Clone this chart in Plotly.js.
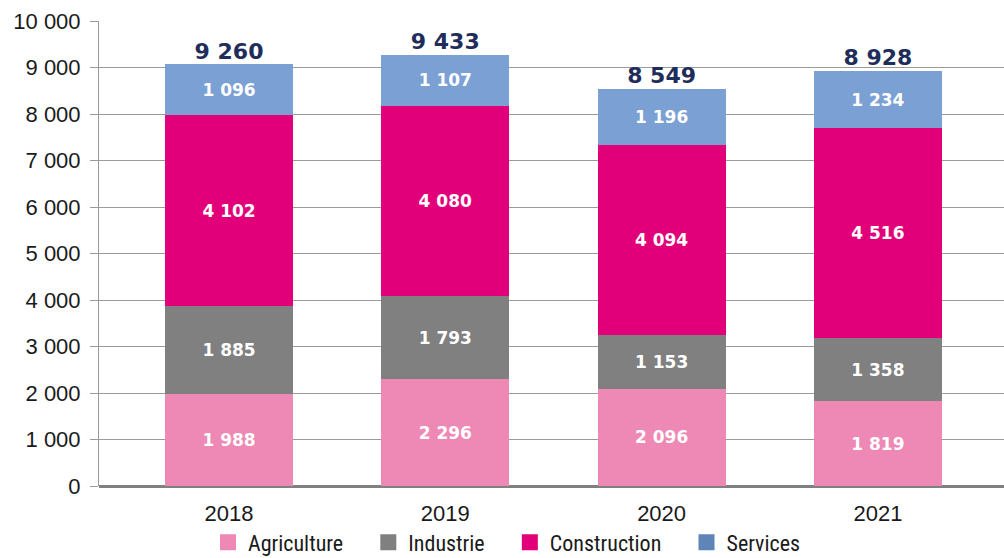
<!DOCTYPE html>
<html>
<head>
<meta charset="utf-8">
<script src="https://cdn.plot.ly/plotly-3.0.1.min.js"></script>
<style>html,body{margin:0;padding:0;background:#fff;}#chart{width:1004px;height:558px;}</style>
</head>
<body>
<div id="chart"></div>
<script>
const years = ["2018", "2019", "2020", "2021"];
const agriculture = [1988, 2296, 2096, 1819];
const industrie = [1885, 1793, 1153, 1358];
const construction = [4102, 4080, 4094, 4516];
const services = [1096, 1107, 1196, 1234];
const totals = [9260, 9433, 8549, 8928];
const seriesNames = ["Agriculture", "Industrie", "Construction", "Services"];
const seriesColors = ["#EE88B4", "#808080", "#E2007A", "#7BA0D4"];
const legendColors = ["#EE88B4", "#808080", "#E2007A", "#5F84B8"];

function fmt(v) {
  return String(v).replace(/\B(?=(\d{3})+(?!\d))/g, " ");
}

const seriesData = [agriculture, industrie, construction, services];
const traces = seriesData.map((vals, i) => ({
  type: "bar",
  name: seriesNames[i],
  x: years,
  y: vals,
  text: vals.map(fmt),
  textposition: "inside",
  insidetextanchor: "middle",
  textangle: 0,
  textfont: {family: "DejaVu Sans", size: 17, color: "#ffffff", weight: "bold"},
  marker: {color: seriesColors[i], line: {width: 0}},
  showlegend: false,
  hoverinfo: "skip"
}));

// legend entries with large square swatches
const pad = "\u00a0\u00a0\u00a0\u00a0";
seriesNames.forEach((nm, i) => {
  traces.push({
    type: "scatter", mode: "markers",
    name: nm + (i < seriesNames.length - 1 ? pad : ""),
    x: [null], y: [null],
    marker: {symbol: "square", size: 16, color: legendColors[i]},
    showlegend: true, hoverinfo: "skip"
  });
});

const stackTops = years.map((_, k) => seriesData.reduce((s, arr) => s + arr[k], 0));
traces.push({
  type: "scatter", mode: "text",
  x: years, y: stackTops,
  text: totals.map(fmt),
  textposition: "top center",
  textfont: {family: "DejaVu Sans", size: 22, color: "#1F2D5A", weight: "bold"},
  cliponaxis: false,
  showlegend: false, hoverinfo: "skip"
});

const layout = {
  width: 1004, height: 558,
  margin: {l: 99, r: 0, t: 21, b: 72},
  paper_bgcolor: "#ffffff", plot_bgcolor: "#ffffff",
  barmode: "stack",
  bargap: 0.408,
  showlegend: true,
  separators: ", ",
  font: {family: "Liberation Sans, Arial, sans-serif", color: "#1a1a1a"},
  xaxis: {
    type: "category",
    range: [-0.601, 3.583],
    showgrid: false,
    showline: false,
    zeroline: false,
    ticks: "",
    tickfont: {size: 22, color: "#1a1a1a"},
    ticklabelstandoff: 12
  },
  yaxis: {
    range: [0, 10000],
    dtick: 1000,
    tickformat: ",d",
    showgrid: true,
    gridcolor: "#9a9a9a",
    gridwidth: 1,
    showline: true,
    linecolor: "#9a9a9a",
    linewidth: 1,
    ticks: "outside",
    ticklen: 8,
    tickcolor: "#9a9a9a",
    zeroline: true,
    zerolinecolor: "#808080",
    zerolinewidth: 3,
    tickfont: {size: 22, color: "#1a1a1a"},
    ticklabelstandoff: 5
  },
  legend: {
    orientation: "h",
    xref: "container", yref: "container",
    x: 0.505, xanchor: "center",
    y: 0.028, yanchor: "middle",
    bgcolor: "rgba(0,0,0,0)",
    font: {family: "Liberation Sans Narrow, Roboto Condensed, Roboto, sans-serif", size: 22, color: "#1a1a1a"},
    traceorder: "normal",
    itemsizing: "trace",
    itemwidth: 30
  }
};

Plotly.newPlot("chart", traces, layout, {displayModeBar: false, staticPlot: true});
</script>
</body>
</html>
